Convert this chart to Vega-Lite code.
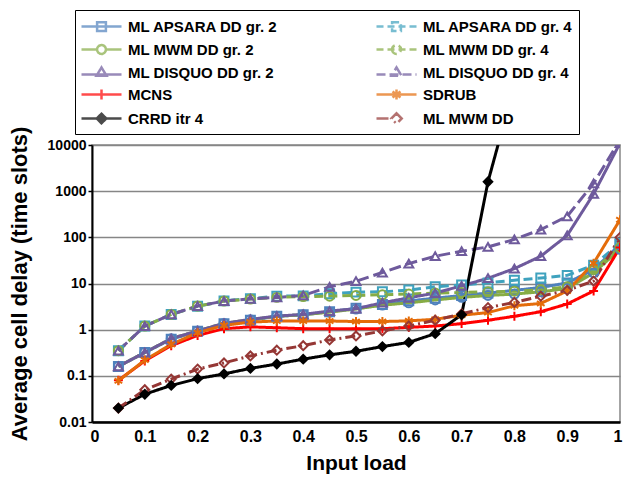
{
  "$schema": "https://vega.github.io/schema/vega-lite/v6.json",
  "width": 528,
  "height": 277,
  "autosize": "none",
  "padding": {"left": 92, "top": 145, "right": 3, "bottom": 60},
  "background": "white",
  "config": {
    "font": "Liberation Sans",
    "view": {"stroke": "#868686", "strokeWidth": 1.5},
    "legend": {
      "title": null, "orient": "none", "legendX": -17, "legendY": -135, "columns": 2,
      "labelFont": "Liberation Sans", "labelFontWeight": "bold", "labelFontSize": 15, "labelColor": "black", "labelLimit": 300,
      "symbolSize": 400, "symbolStrokeWidth": 2.5, "labelOffset": 25, "rowPadding": 2, "columnPadding": 92,
      "strokeColor": "black", "padding": 5
    }
  },
  "datasets": {
    "d": [
      {"s":"ML APSARA DD gr. 2","x":0.05,"y":0.16},{"s":"ML APSARA DD gr. 2","x":0.1,"y":0.32},{"s":"ML APSARA DD gr. 2","x":0.15,"y":0.62},{"s":"ML APSARA DD gr. 2","x":0.2,"y":0.92},{"s":"ML APSARA DD gr. 2","x":0.25,"y":1.35},{"s":"ML APSARA DD gr. 2","x":0.3,"y":1.6},{"s":"ML APSARA DD gr. 2","x":0.35,"y":1.95},{"s":"ML APSARA DD gr. 2","x":0.4,"y":2.1},{"s":"ML APSARA DD gr. 2","x":0.45,"y":2.45},{"s":"ML APSARA DD gr. 2","x":0.5,"y":2.9},{"s":"ML APSARA DD gr. 2","x":0.55,"y":3.5},{"s":"ML APSARA DD gr. 2","x":0.6,"y":4.2},{"s":"ML APSARA DD gr. 2","x":0.65,"y":4.8},{"s":"ML APSARA DD gr. 2","x":0.7,"y":5.5},{"s":"ML APSARA DD gr. 2","x":0.75,"y":6.2},{"s":"ML APSARA DD gr. 2","x":0.8,"y":7.1},{"s":"ML APSARA DD gr. 2","x":0.85,"y":8.2},{"s":"ML APSARA DD gr. 2","x":0.9,"y":10.3},{"s":"ML APSARA DD gr. 2","x":0.95,"y":20},{"s":"ML APSARA DD gr. 2","x":1.0,"y":70},
      {"s":"ML APSARA DD gr. 4","x":0.05,"y":0.35},{"s":"ML APSARA DD gr. 4","x":0.1,"y":1.2},{"s":"ML APSARA DD gr. 4","x":0.15,"y":2.14},{"s":"ML APSARA DD gr. 4","x":0.2,"y":3.2},{"s":"ML APSARA DD gr. 4","x":0.25,"y":4.2},{"s":"ML APSARA DD gr. 4","x":0.3,"y":4.7},{"s":"ML APSARA DD gr. 4","x":0.35,"y":5.3},{"s":"ML APSARA DD gr. 4","x":0.4,"y":5.4},{"s":"ML APSARA DD gr. 4","x":0.45,"y":6.0},{"s":"ML APSARA DD gr. 4","x":0.5,"y":6.5},{"s":"ML APSARA DD gr. 4","x":0.55,"y":6.6},{"s":"ML APSARA DD gr. 4","x":0.6,"y":7.2},{"s":"ML APSARA DD gr. 4","x":0.65,"y":8.5},{"s":"ML APSARA DD gr. 4","x":0.7,"y":9.3},{"s":"ML APSARA DD gr. 4","x":0.75,"y":10.3},{"s":"ML APSARA DD gr. 4","x":0.8,"y":11.8},{"s":"ML APSARA DD gr. 4","x":0.85,"y":13.2},{"s":"ML APSARA DD gr. 4","x":0.9,"y":15},{"s":"ML APSARA DD gr. 4","x":0.95,"y":25},{"s":"ML APSARA DD gr. 4","x":1.0,"y":75},
      {"s":"ML MWM DD gr. 2","x":0.05,"y":0.16},{"s":"ML MWM DD gr. 2","x":0.1,"y":0.32},{"s":"ML MWM DD gr. 2","x":0.15,"y":0.64},{"s":"ML MWM DD gr. 2","x":0.2,"y":0.94},{"s":"ML MWM DD gr. 2","x":0.25,"y":1.37},{"s":"ML MWM DD gr. 2","x":0.3,"y":1.65},{"s":"ML MWM DD gr. 2","x":0.35,"y":1.95},{"s":"ML MWM DD gr. 2","x":0.4,"y":2.1},{"s":"ML MWM DD gr. 2","x":0.45,"y":2.4},{"s":"ML MWM DD gr. 2","x":0.5,"y":2.8},{"s":"ML MWM DD gr. 2","x":0.55,"y":3.4},{"s":"ML MWM DD gr. 2","x":0.6,"y":3.8},{"s":"ML MWM DD gr. 2","x":0.65,"y":4.4},{"s":"ML MWM DD gr. 2","x":0.7,"y":5.0},{"s":"ML MWM DD gr. 2","x":0.75,"y":5.5},{"s":"ML MWM DD gr. 2","x":0.8,"y":5.9},{"s":"ML MWM DD gr. 2","x":0.85,"y":6.6},{"s":"ML MWM DD gr. 2","x":0.9,"y":7.8},{"s":"ML MWM DD gr. 2","x":0.95,"y":17},{"s":"ML MWM DD gr. 2","x":1.0,"y":55},
      {"s":"ML MWM DD gr. 4","x":0.05,"y":0.35},{"s":"ML MWM DD gr. 4","x":0.1,"y":1.2},{"s":"ML MWM DD gr. 4","x":0.15,"y":2.14},{"s":"ML MWM DD gr. 4","x":0.2,"y":3.24},{"s":"ML MWM DD gr. 4","x":0.25,"y":4.16},{"s":"ML MWM DD gr. 4","x":0.3,"y":4.6},{"s":"ML MWM DD gr. 4","x":0.35,"y":5.0},{"s":"ML MWM DD gr. 4","x":0.4,"y":5.2},{"s":"ML MWM DD gr. 4","x":0.45,"y":5.3},{"s":"ML MWM DD gr. 4","x":0.5,"y":5.5},{"s":"ML MWM DD gr. 4","x":0.55,"y":5.7},{"s":"ML MWM DD gr. 4","x":0.6,"y":5.9},{"s":"ML MWM DD gr. 4","x":0.65,"y":6.2},{"s":"ML MWM DD gr. 4","x":0.7,"y":6.4},{"s":"ML MWM DD gr. 4","x":0.75,"y":6.6},{"s":"ML MWM DD gr. 4","x":0.8,"y":6.8},{"s":"ML MWM DD gr. 4","x":0.85,"y":7.3},{"s":"ML MWM DD gr. 4","x":0.9,"y":8.5},{"s":"ML MWM DD gr. 4","x":0.95,"y":20},{"s":"ML MWM DD gr. 4","x":1.0,"y":60},
      {"s":"ML DISQUO DD gr. 2","x":0.05,"y":0.16},{"s":"ML DISQUO DD gr. 2","x":0.1,"y":0.32},{"s":"ML DISQUO DD gr. 2","x":0.15,"y":0.64},{"s":"ML DISQUO DD gr. 2","x":0.2,"y":0.94},{"s":"ML DISQUO DD gr. 2","x":0.25,"y":1.37},{"s":"ML DISQUO DD gr. 2","x":0.3,"y":1.67},{"s":"ML DISQUO DD gr. 2","x":0.35,"y":1.97},{"s":"ML DISQUO DD gr. 2","x":0.4,"y":2.14},{"s":"ML DISQUO DD gr. 2","x":0.45,"y":2.53},{"s":"ML DISQUO DD gr. 2","x":0.5,"y":2.84},{"s":"ML DISQUO DD gr. 2","x":0.55,"y":3.83},{"s":"ML DISQUO DD gr. 2","x":0.6,"y":4.9},{"s":"ML DISQUO DD gr. 2","x":0.65,"y":6.2},{"s":"ML DISQUO DD gr. 2","x":0.7,"y":8.9},{"s":"ML DISQUO DD gr. 2","x":0.75,"y":13},{"s":"ML DISQUO DD gr. 2","x":0.8,"y":21},{"s":"ML DISQUO DD gr. 2","x":0.85,"y":39},{"s":"ML DISQUO DD gr. 2","x":0.9,"y":110},{"s":"ML DISQUO DD gr. 2","x":0.95,"y":870},{"s":"ML DISQUO DD gr. 2","x":1.0,"y":11000},
      {"s":"ML DISQUO DD gr. 4","x":0.05,"y":0.35},{"s":"ML DISQUO DD gr. 4","x":0.1,"y":1.2},{"s":"ML DISQUO DD gr. 4","x":0.15,"y":2.14},{"s":"ML DISQUO DD gr. 4","x":0.2,"y":3.24},{"s":"ML DISQUO DD gr. 4","x":0.25,"y":4.16},{"s":"ML DISQUO DD gr. 4","x":0.3,"y":4.67},{"s":"ML DISQUO DD gr. 4","x":0.35,"y":5.0},{"s":"ML DISQUO DD gr. 4","x":0.4,"y":5.5},{"s":"ML DISQUO DD gr. 4","x":0.45,"y":8.5},{"s":"ML DISQUO DD gr. 4","x":0.5,"y":11.2},{"s":"ML DISQUO DD gr. 4","x":0.55,"y":17.3},{"s":"ML DISQUO DD gr. 4","x":0.6,"y":27},{"s":"ML DISQUO DD gr. 4","x":0.65,"y":39},{"s":"ML DISQUO DD gr. 4","x":0.7,"y":50},{"s":"ML DISQUO DD gr. 4","x":0.75,"y":62},{"s":"ML DISQUO DD gr. 4","x":0.8,"y":90},{"s":"ML DISQUO DD gr. 4","x":0.85,"y":147},{"s":"ML DISQUO DD gr. 4","x":0.9,"y":285},{"s":"ML DISQUO DD gr. 4","x":0.95,"y":1480},{"s":"ML DISQUO DD gr. 4","x":1.0,"y":13000},
      {"s":"MCNS","x":0.05,"y":0.08},{"s":"MCNS","x":0.1,"y":0.21},{"s":"MCNS","x":0.15,"y":0.45},{"s":"MCNS","x":0.2,"y":0.75},{"s":"MCNS","x":0.25,"y":1.05},{"s":"MCNS","x":0.3,"y":1.15},{"s":"MCNS","x":0.35,"y":1.1},{"s":"MCNS","x":0.4,"y":1.05},{"s":"MCNS","x":0.45,"y":1.05},{"s":"MCNS","x":0.5,"y":1.05},{"s":"MCNS","x":0.55,"y":1.05},{"s":"MCNS","x":0.6,"y":1.12},{"s":"MCNS","x":0.65,"y":1.2},{"s":"MCNS","x":0.7,"y":1.35},{"s":"MCNS","x":0.75,"y":1.6},{"s":"MCNS","x":0.8,"y":1.95},{"s":"MCNS","x":0.85,"y":2.45},{"s":"MCNS","x":0.9,"y":3.6},{"s":"MCNS","x":0.95,"y":6.9},{"s":"MCNS","x":1.0,"y":60},
      {"s":"SDRUB","x":0.05,"y":0.078},{"s":"SDRUB","x":0.1,"y":0.22},{"s":"SDRUB","x":0.15,"y":0.48},{"s":"SDRUB","x":0.2,"y":0.86},{"s":"SDRUB","x":0.25,"y":1.24},{"s":"SDRUB","x":0.3,"y":1.46},{"s":"SDRUB","x":0.35,"y":1.54},{"s":"SDRUB","x":0.4,"y":1.54},{"s":"SDRUB","x":0.45,"y":1.54},{"s":"SDRUB","x":0.5,"y":1.5},{"s":"SDRUB","x":0.55,"y":1.5},{"s":"SDRUB","x":0.6,"y":1.55},{"s":"SDRUB","x":0.65,"y":1.68},{"s":"SDRUB","x":0.7,"y":2.05},{"s":"SDRUB","x":0.75,"y":2.35},{"s":"SDRUB","x":0.8,"y":3.3},{"s":"SDRUB","x":0.85,"y":3.7},{"s":"SDRUB","x":0.9,"y":6.9},{"s":"SDRUB","x":0.95,"y":27.5},{"s":"SDRUB","x":1.0,"y":240},
      {"s":"CRRD itr 4","x":0.05,"y":0.02},{"s":"CRRD itr 4","x":0.1,"y":0.04},{"s":"CRRD itr 4","x":0.15,"y":0.062},{"s":"CRRD itr 4","x":0.2,"y":0.087},{"s":"CRRD itr 4","x":0.25,"y":0.11},{"s":"CRRD itr 4","x":0.3,"y":0.145},{"s":"CRRD itr 4","x":0.35,"y":0.18},{"s":"CRRD itr 4","x":0.4,"y":0.23},{"s":"CRRD itr 4","x":0.45,"y":0.285},{"s":"CRRD itr 4","x":0.5,"y":0.34},{"s":"CRRD itr 4","x":0.55,"y":0.43},{"s":"CRRD itr 4","x":0.6,"y":0.53},{"s":"CRRD itr 4","x":0.65,"y":0.82},{"s":"CRRD itr 4","x":0.7,"y":2.1},{"s":"CRRD itr 4","x":0.75,"y":1600},{"s":"CRRD itr 4","x":0.8,"y":200000},
      {"s":"ML MWM DD","x":0.05,"y":0.02},{"s":"ML MWM DD","x":0.1,"y":0.05},{"s":"ML MWM DD","x":0.15,"y":0.085},{"s":"ML MWM DD","x":0.2,"y":0.14},{"s":"ML MWM DD","x":0.25,"y":0.19},{"s":"ML MWM DD","x":0.3,"y":0.27},{"s":"ML MWM DD","x":0.35,"y":0.36},{"s":"ML MWM DD","x":0.4,"y":0.45},{"s":"ML MWM DD","x":0.45,"y":0.6},{"s":"ML MWM DD","x":0.5,"y":0.73},{"s":"ML MWM DD","x":0.55,"y":0.94},{"s":"ML MWM DD","x":0.6,"y":1.2},{"s":"ML MWM DD","x":0.65,"y":1.6},{"s":"ML MWM DD","x":0.7,"y":2.2},{"s":"ML MWM DD","x":0.75,"y":3.0},{"s":"ML MWM DD","x":0.8,"y":3.9},{"s":"ML MWM DD","x":0.85,"y":5.3},{"s":"ML MWM DD","x":0.9,"y":7.1},{"s":"ML MWM DD","x":0.95,"y":11.3},{"s":"ML MWM DD","x":1.0,"y":100}
    ]
  },
  "data": {"name": "d"},
  "encoding": {
    "x": {
      "field": "x", "type": "quantitative",
      "scale": {"domain": [0, 1], "nice": false, "zero": false},
      "axis": {
        "title": "Input load",
        "values": [0, 0.1, 0.2, 0.3, 0.4, 0.5, 0.6, 0.7, 0.8, 0.9, 1],
        "format": "~g",
        "grid": false, "ticks": false,
        "domainColor": "black", "domainWidth": 2.5,
        "labelFont": "Liberation Sans", "labelFontSize": 16, "labelFontWeight": "bold", "labelColor": "black",
        "labelPadding": 6, "labelFlush": true, "labelFlushOffset": 2, "labelOverlap": false,
        "titleFont": "Liberation Sans", "titleFontSize": 21, "titleFontWeight": "bold", "titleColor": "black",
        "titlePadding": 8
      }
    },
    "y": {
      "field": "y", "type": "quantitative",
      "scale": {"type": "log", "domain": [0.01, 10000], "nice": false},
      "axis": {
        "title": "Average cell delay (time slots)",
        "values": [0.01, 0.1, 1, 10, 100, 1000, 10000],
        "format": "~g",
        "grid": true, "gridColor": "#868686", "gridWidth": 1.5,
        "ticks": true, "tickColor": "black", "tickSize": 4, "tickWidth": 1.5,
        "domainColor": "black", "domainWidth": 2,
        "labelFont": "Liberation Sans", "labelFontSize": 14, "labelFontWeight": "bold", "labelColor": "black",
        "labelPadding": 2, "labelOverlap": false, "labelFlush": false,
        "titleFont": "Liberation Sans", "titleFontSize": 22, "titleFontWeight": "bold", "titleColor": "black",
        "titlePadding": 16
      }
    }
  },
  "layer": [
    {
      "mark": {"type": "line", "interpolate": "linear", "clip": true},
      "encoding": {
        "color": {
          "field": "s", "type": "nominal", "legend": null,
          "scale": {
            "domain": ["ML APSARA DD gr. 2", "ML APSARA DD gr. 4", "ML MWM DD gr. 2", "ML MWM DD gr. 4", "ML DISQUO DD gr. 2", "ML DISQUO DD gr. 4", "MCNS", "SDRUB", "CRRD itr 4", "ML MWM DD"],
            "range": ["#4F81BD", "#3FA2BE", "#86AC45", "#86AC45", "#6E5A9C", "#6E5A9C", "#FF0000", "#E46C0A", "#000000", "#953735"]
          }
        },
        "strokeDash": {
          "field": "s", "type": "nominal", "legend": null,
          "scale": {
            "domain": ["ML APSARA DD gr. 2", "ML APSARA DD gr. 4", "ML MWM DD gr. 2", "ML MWM DD gr. 4", "ML DISQUO DD gr. 2", "ML DISQUO DD gr. 4", "MCNS", "SDRUB", "CRRD itr 4", "ML MWM DD"],
            "range": [[1, 0], [9, 5], [1, 0], [9, 5], [1, 0], [12, 5], [1, 0], [1, 0], [1, 0], [10, 4, 2, 4]]
          }
        },
        "strokeWidth": {
          "field": "s", "type": "nominal", "legend": null,
          "scale": {
            "domain": ["ML APSARA DD gr. 2", "ML APSARA DD gr. 4", "ML MWM DD gr. 2", "ML MWM DD gr. 4", "ML DISQUO DD gr. 2", "ML DISQUO DD gr. 4", "MCNS", "SDRUB", "CRRD itr 4", "ML MWM DD"],
            "range": [3, 3, 3, 3, 3, 3, 1.5, 2, 3, 3]
          }
        }
      }
    },
    {
      "transform": [{"filter": "datum.s !== 'CRRD itr 4'"}],
      "mark": {"type": "point", "filled": false, "strokeWidth": 2, "clip": true, "opacity": 1},
      "encoding": {
        "stroke": {
          "field": "s", "type": "nominal", "legend": null,
          "scale": {
            "domain": ["ML APSARA DD gr. 2", "ML APSARA DD gr. 4", "ML MWM DD gr. 2", "ML MWM DD gr. 4", "ML DISQUO DD gr. 2", "ML DISQUO DD gr. 4", "MCNS", "SDRUB", "CRRD itr 4", "ML MWM DD"],
            "range": ["#4F81BD", "#3FA2BE", "#4F81BD", "#86AC45", "#6E5A9C", "#6E5A9C", "#FF0000", "#E46C0A", "#000000", "#953735"]
          }
        },
        "shape": {
          "field": "s", "type": "nominal", "legend": null,
          "scale": {
            "domain": ["ML APSARA DD gr. 2", "ML APSARA DD gr. 4", "ML MWM DD gr. 2", "ML MWM DD gr. 4", "ML DISQUO DD gr. 2", "ML DISQUO DD gr. 4", "MCNS", "SDRUB", "CRRD itr 4", "ML MWM DD"],
            "range": ["square", "square", "circle", "circle", "triangle-up", "triangle-up", "M-1,0H1M0,-1V1", "M0,-1V1M-0.85,-0.55L0.85,0.55M-0.85,0.55L0.85,-0.55", "diamond", "diamond"]
          }
        },
        "size": {
          "field": "s", "type": "nominal", "legend": null,
          "scale": {
            "domain": ["ML APSARA DD gr. 2", "ML APSARA DD gr. 4", "ML MWM DD gr. 2", "ML MWM DD gr. 4", "ML DISQUO DD gr. 2", "ML DISQUO DD gr. 4", "MCNS", "SDRUB", "CRRD itr 4", "ML MWM DD"],
            "range": [80, 80, 85, 85, 110, 110, 100, 110, 140, 150]
          }
        }
      }
    },
    {
      "transform": [{"filter": "datum.s === 'CRRD itr 4'"}],
      "mark": {"type": "point", "filled": true, "shape": "diamond", "size": 130, "color": "black", "opacity": 1, "clip": true}
    },
    {
      "transform": [{"filter": "datum.x > 5"}],
      "mark": {"type": "point", "filled": false, "clip": true},
      "encoding": {
        "color": {
          "field": "s", "type": "nominal",
          "scale": {
            "domain": ["ML APSARA DD gr. 2", "ML MWM DD gr. 2", "ML DISQUO DD gr. 2", "MCNS", "CRRD itr 4", "ML APSARA DD gr. 4", "ML MWM DD gr. 4", "ML DISQUO DD gr. 4", "SDRUB", "ML MWM DD"],
            "range": ["#4F81BD", "#86AC45", "#6E5A9C", "#FF0000", "#000000", "#3FA2BE", "#86AC45", "#6E5A9C", "#E46C0A", "#953735"]
          }
        },
        "strokeDash": {
          "field": "s", "type": "nominal",
          "scale": {
            "domain": ["ML APSARA DD gr. 2", "ML MWM DD gr. 2", "ML DISQUO DD gr. 2", "MCNS", "CRRD itr 4", "ML APSARA DD gr. 4", "ML MWM DD gr. 4", "ML DISQUO DD gr. 4", "SDRUB", "ML MWM DD"],
            "range": [[1, 0], [1, 0], [1, 0], [1, 0], [1, 0], [7, 4], [7, 4], [9, 4], [1, 0], [12, 4, 2, 4]]
          }
        },
        "shape": {
          "field": "s", "type": "nominal",
          "scale": {
            "domain": ["ML APSARA DD gr. 2", "ML MWM DD gr. 2", "ML DISQUO DD gr. 2", "MCNS", "CRRD itr 4", "ML APSARA DD gr. 4", "ML MWM DD gr. 4", "ML DISQUO DD gr. 4", "SDRUB", "ML MWM DD"],
            "range": [
              "M-1,0H3M0.56,-0.44H1.44V0.44H0.56Z",
              "M-1,0H0.56M1.44,0H3M0.56,0A0.44,0.44 0 1,0 1.44,0A0.44,0.44 0 1,0 0.56,0Z",
              "M-1,0.2H3M1,-0.5L1.5,0.32H0.5Z",
              "M-1,0H3M1,-0.5V0.5",
              "M-1,0H3M1,-0.48L1.48,0L1,0.48L0.52,0ZM1,-0.28L1.28,0L1,0.28L0.72,0ZM1,-0.1L1.1,0L1,0.1L0.9,0Z",
              "M-1,0H3M0.56,-0.44H1.44V0.44H0.56Z",
              "M-1,0H3M0.56,0A0.44,0.44 0 1,0 1.44,0A0.44,0.44 0 1,0 0.56,0Z",
              "M-1,0.2H3M1,-0.5L1.5,0.32H0.5Z",
              "M-1,0H3M1,-0.5V0.5M0.6,-0.3L1.4,0.3M0.6,0.3L1.4,-0.3",
              "M-1,0H0.48M1,-0.52L1.52,0L1,0.52L0.48,0Z"
            ]
          }
        }
      }
    }
  ],
  "resolve": {"scale": {"shape": "independent", "color": "independent", "strokeDash": "independent"}}
}
